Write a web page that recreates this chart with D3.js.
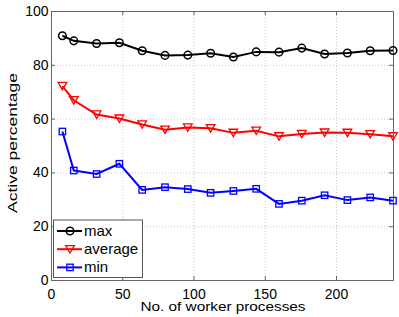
<!DOCTYPE html>
<html>
<head>
<meta charset="utf-8">
<script src="https://cdn.jsdelivr.net/npm/d3@7"></script>
<style>
	body { margin: 0; background: #fff; }
	text { font-family: "Liberation Sans", Arial, sans-serif; }
</style>
</head>
<body>
<div id="chart"></div>
<script>
var workers = [8, 16, 32, 48, 64, 80, 96, 112, 128, 144, 160, 176, 192, 208, 224, 240];
var maxValues = [90.8, 88.9, 87.9, 88.2, 85.2, 83.5, 83.6, 84.3, 82.9, 84.8, 84.7, 86.2, 84.0, 84.4, 85.2, 85.3];
var avgValues = [72.1, 66.8, 61.5, 60.0, 57.8, 55.9, 56.7, 56.4, 54.7, 55.5, 53.4, 54.3, 54.8, 54.7, 54.2, 53.4];
var minValues = [55.2, 40.7, 39.4, 43.2, 33.5, 34.5, 33.8, 32.4, 33.1, 33.9, 28.3, 29.5, 31.5, 29.7, 30.7, 29.5];
var xTicks = [0, 50, 100, 150, 200];
var yTicks = [0, 20, 40, 60, 80, 100];
var seriesNames = ["max", "average", "min"];

var width = 399, height = 317;
var margin = {left: 51, right: 6, top: 11, bottom: 37};

var svg = d3.select("#chart").append("svg")
	.attr("width", width)
	.attr("height", height);

var x = d3.scaleLinear().domain([0, 240]).range([margin.left, width - margin.right]);
var y = d3.scaleLinear().domain([0, 100]).range([height - margin.bottom, margin.top]);

// grid
var grid = svg.append("g").attr("stroke", "#c8c8c8").attr("stroke-dasharray", "1,2").attr("stroke-width", 1);
xTicks.slice(1).forEach(function (t) {
	grid.append("line").attr("x1", x(t) + 0.5).attr("x2", x(t) + 0.5).attr("y1", y(0)).attr("y2", y(100));
});
yTicks.slice(1, -1).forEach(function (t) {
	grid.append("line").attr("x1", x(0)).attr("x2", x(240)).attr("y1", y(t) + 0.5).attr("y2", y(t) + 0.5);
});

// axes (ticks inward, matlab style)
var xAxis = svg.append("g").attr("transform", "translate(0," + y(0) + ")")
	.call(d3.axisBottom(x).tickValues(xTicks).tickSizeInner(-4).tickSizeOuter(0).tickPadding(9));
var xAxisTop = svg.append("g").attr("transform", "translate(0," + y(100) + ")")
	.call(d3.axisTop(x).tickValues(xTicks).tickSizeInner(-4).tickSizeOuter(0).tickFormat(""));
var yAxis = svg.append("g").attr("transform", "translate(" + x(0) + ",0)")
	.call(d3.axisLeft(y).tickValues(yTicks).tickSizeInner(-4).tickSizeOuter(0).tickPadding(2.5));
var yAxisRight = svg.append("g").attr("transform", "translate(" + x(240) + ",0)")
	.call(d3.axisRight(y).tickValues(yTicks).tickSizeInner(-4).tickSizeOuter(0).tickFormat(""));

[xAxis, xAxisTop, yAxis, yAxisRight].forEach(function (a) {
	a.selectAll("path").attr("stroke", "#666");
	a.selectAll("line").attr("stroke", "#666");
	a.selectAll("text").attr("fill", "#000").style("font-size", "14px");
});

// series
var series = [
	{name: seriesNames[0], values: maxValues, color: "#000", marker: "circle"},
	{name: seriesNames[1], values: avgValues, color: "#ff0000", marker: "triangle"},
	{name: seriesNames[2], values: minValues, color: "#0000ff", marker: "square"}
];

var line = d3.line()
	.x(function (d) { return x(d[0]); })
	.y(function (d) { return y(d[1]); });

function drawMarker(g, type, color) {
	if (type === "circle") {
		g.append("circle").attr("r", 3.8).attr("fill", "none").attr("stroke", color).attr("stroke-width", 1.5);
	} else if (type === "triangle") {
		g.append("path").attr("d", "M-4.3,-3.6L4.3,-3.6L0,3.8Z").attr("fill", "none").attr("stroke", color).attr("stroke-width", 1.3);
	} else {
		g.append("rect").attr("x", -3.2).attr("y", -3.2).attr("width", 6.4).attr("height", 6.4)
			.attr("fill", "none").attr("stroke", color).attr("stroke-width", 1.3);
	}
}

series.forEach(function (s) {
	var pts = workers.map(function (w, i) { return [w, s.values[i]]; });
	var g = svg.append("g");
	g.append("path").datum(pts)
		.attr("d", line)
		.attr("fill", "none")
		.attr("stroke", s.color)
		.attr("stroke-width", 2);
	pts.forEach(function (p) {
		var m = g.append("g").attr("transform", "translate(" + x(p[0]) + "," + y(p[1]) + ")");
		drawMarker(m, s.marker, s.color);
	});
});

// legend
var legend = svg.append("g").attr("transform", "translate(53,219.5)");
legend.append("rect").attr("x", 0.5).attr("y", 0.5).attr("width", 89).attr("height", 57.5)
	.attr("fill", "#fff").attr("stroke", "#555").attr("stroke-width", 1);
series.forEach(function (s, i) {
	var yy = 11.5 + i * 18.2;
	legend.append("line").attr("x1", 4).attr("x2", 29).attr("y1", yy).attr("y2", yy)
		.attr("stroke", s.color).attr("stroke-width", 2);
	var m = legend.append("g").attr("transform", "translate(17," + yy + ")");
	drawMarker(m, s.marker, s.color);
	legend.append("text").attr("x", 31).attr("y", yy + 5).style("font-size", "15px").text(s.name);
});

// axis labels
svg.append("text")
	.attr("x", 223).attr("y", 311)
	.attr("text-anchor", "middle")
	.attr("textLength", 165)
	.attr("lengthAdjust", "spacingAndGlyphs")
	.style("font-size", "13.5px")
	.text("No. of worker processes");
svg.append("text")
	.attr("transform", "translate(16.7,143) rotate(-90)")
	.attr("text-anchor", "middle")
	.attr("textLength", 140)
	.attr("lengthAdjust", "spacingAndGlyphs")
	.style("font-size", "13.5px")
	.text("Active percentage");
</script>
</body>
</html>
